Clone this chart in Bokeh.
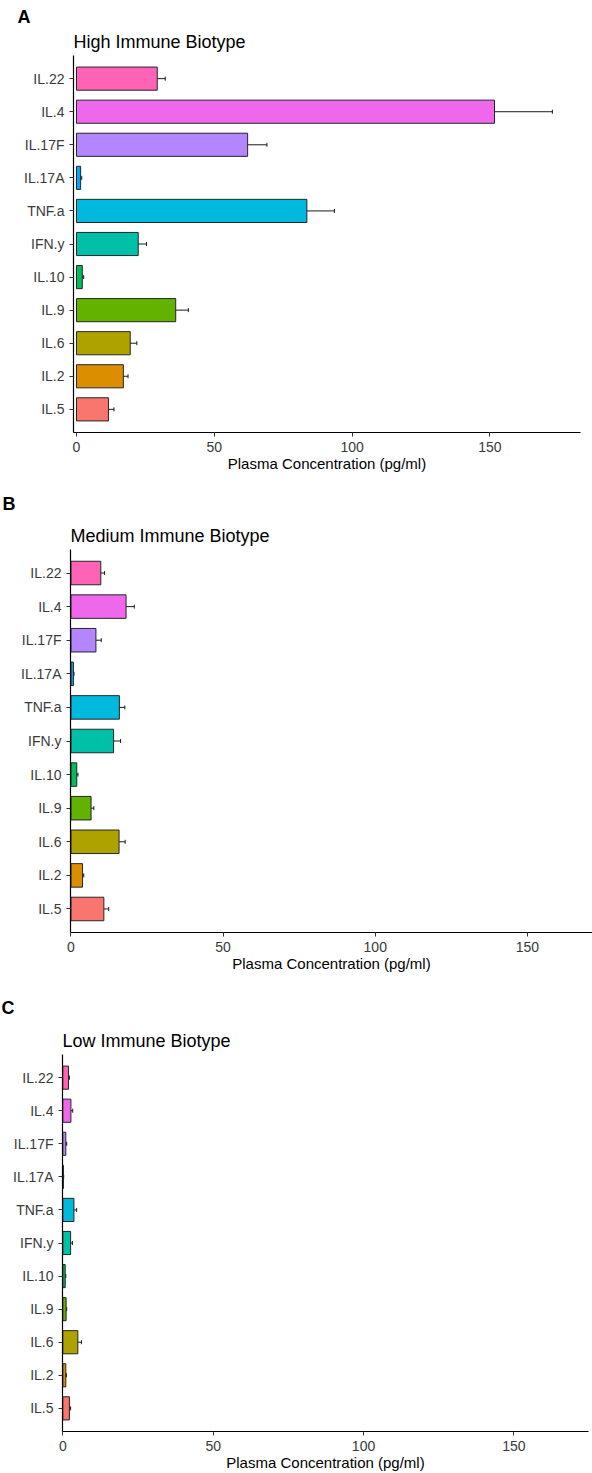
from bokeh.plotting import figure
from bokeh.models import FactorRange, Range1d, ColumnDataSource, Whisker, TeeHead, Title, FixedTicker
from bokeh.layouts import column
from bokeh.embed import file_html
from bokeh.resources import INLINE

cytokines = ["IL.5", "IL.2", "IL.6", "IL.9", "IL.10", "IFN.y", "TNF.a",
             "IL.17A", "IL.17F", "IL.4", "IL.22"]
colors = ["#F8766D", "#DB8E00", "#AEA200", "#64B200", "#00BD5C", "#00C1A7",
          "#00BADE", "#00A6FF", "#B385FF", "#EF67EB", "#FF63B6"]

high_mean = [11.6, 17.0, 19.5, 36.0, 2.1, 22.4, 83.6, 1.5, 62.1, 151.7, 29.3]
high_se = [2.0, 1.7, 2.4, 4.6, 0.5, 3.0, 10.0, 0.4, 7.0, 21.0, 2.9]

medium_mean = [10.8, 3.8, 15.8, 6.6, 1.9, 14.0, 15.9, 0.8, 8.2, 18.1, 9.8]
medium_se = [1.6, 0.4, 2.0, 0.9, 0.4, 2.3, 1.8, 0.2, 1.75, 2.7, 1.25]

low_mean = [2.2, 1.0, 5.0, 1.1, 0.8, 2.6, 3.7, 0.2, 1.0, 2.7, 1.9]
low_se = [0.4, 0.2, 1.2, 0.2, 0.2, 0.6, 0.9, 0.1, 0.3, 0.6, 0.3]

x_ticks = [0, 50, 100, 150]
x_title = "Plasma Concentration (pg/ml)"
FONT = "Liberation Sans"


def make_panel(letter, title, means, ses, height, x_start, x_end,
               b_left, b_right, b_top, b_bottom, letter_offset, title_standoff, letter_standoff):
    src = ColumnDataSource(dict(
        cat=cytokines, mean=means, color=colors,
        lo=[m - s for m, s in zip(means, ses)],
        hi=[m + s for m, s in zip(means, ses)],
    ))
    p = figure(width=592, height=height, output_backend="svg", toolbar_location=None,
               title=None, frame_align=False,
               y_range=FactorRange(factors=cytokines, range_padding=0.2,
                                   range_padding_units="absolute"),
               x_range=Range1d(x_start, x_end),
               min_border_left=b_left, min_border_right=b_right,
               min_border_top=b_top, min_border_bottom=b_bottom)
    p.hbar(y="cat", left=0, right="mean", height=0.7, fill_color="color",
           line_color="#262626", line_width=1, source=src)
    p.add_layout(Whisker(base="cat", lower="lo", upper="hi", dimension="width",
                         source=src, line_color="#1a1a1a", line_width=1,
                         lower_head=TeeHead(size=4, line_color="#1a1a1a", line_width=1),
                         upper_head=TeeHead(size=4, line_color="#1a1a1a", line_width=1)))
    p.xgrid.visible = False
    p.ygrid.visible = False
    p.outline_line_color = None
    p.background_fill_color = "white"
    p.border_fill_color = "white"

    for ax in (p.xaxis[0], p.yaxis[0]):
        ax.axis_line_color = "black"
        ax.axis_line_width = 1.2
        ax.major_tick_line_color = "#333333"
        ax.major_tick_out = 4
        ax.major_tick_in = 0
        ax.minor_tick_line_color = None
        ax.major_label_text_font = FONT
        ax.major_label_text_font_size = "14px"
        ax.major_label_text_color = "#3a3a3a"
        ax.major_label_standoff = 5
    p.xaxis.ticker = FixedTicker(ticks=x_ticks)
    p.xaxis.axis_label = x_title
    p.xaxis.axis_label_text_font = FONT
    p.xaxis.axis_label_text_font_size = "15px"
    p.xaxis.axis_label_text_font_style = "normal"
    p.xaxis.axis_label_text_color = "black"
    p.xaxis.axis_label_standoff = 0

    t = Title(text=title, align="left", text_font=FONT, text_font_size="18px",
              text_font_style="normal", text_color="black", standoff=title_standoff)
    p.add_layout(t, "above")
    lt = Title(text=letter, align="left", offset=letter_offset, text_font=FONT,
               text_font_size="18px", text_font_style="bold", text_color="black",
               standoff=letter_standoff)
    p.add_layout(lt, "above")
    return p


pA = make_panel("A", "High Immune Biotype", high_mean, high_se, 484, -1.09, 182.9,
                73, 12, 55, 52, -56, 7, 0)
pB = make_panel("B", "Medium Immune Biotype", medium_mean, medium_se, 496, -0.16, 171.4,
                70, 0, 65, 48, -68, 8, 11)
pC = make_panel("C", "Low Immune Biotype", low_mean, low_se, 493, -0.1, 174.8,
                62, 4, 74, 41, -61, 8, 13)

layout = column(pA, pB, pC, spacing=0)
open("out.html", "w").write(file_html(layout, INLINE))
